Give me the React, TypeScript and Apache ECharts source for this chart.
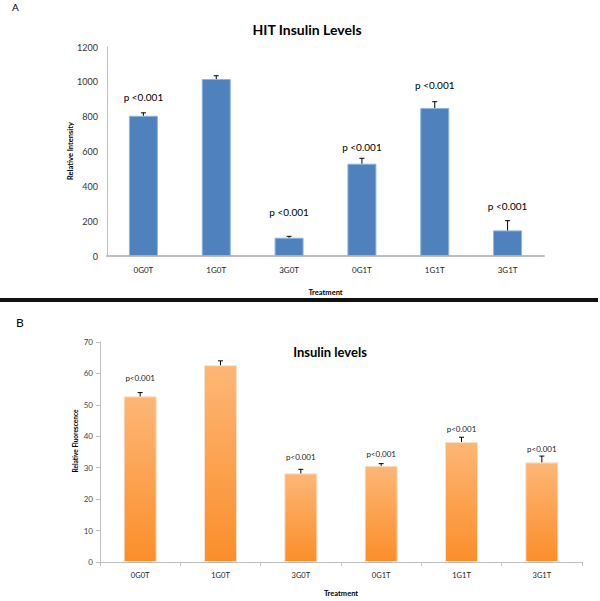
import React, { useEffect, useRef } from "react";
import * as echarts from "echarts";

const categories = ["0G0T", "1G0T", "3G0T", "0G1T", "1G1T", "3G1T"];

// Panel A: HIT insulin levels (relative intensity)
const hitValues = [805, 1016, 105, 530, 850, 147];
const hitErrors = [17, 19, 8, 31, 36, 56];
const hitPLabels = ["p <0.001", "", "p <0.001", "p <0.001", "p <0.001", "p <0.001"];
const hitPLabelY = [914, 0, 254, 627, 982, 287];

// Panel B: insulin levels (relative fluorescence)
const fluoValues = [52.7, 62.6, 28.2, 30.6, 38.2, 31.7];
const fluoErrors = [1.2, 1.4, 1.3, 0.7, 1.5, 2.0];
const fluoPLabels = ["p<0.001", "", "p<0.001", "p<0.001", "p<0.001", "p<0.001"];
const fluoPLabelY = [58.7, 0, 33.3, 34.4, 42.2, 36.0];

const yTicksA = { min: 0, max: 1200, interval: 200 };
const yTicksB = { min: 0, max: 70, interval: 10 };

const FONT = "Lato, 'Open Sans', 'DejaVu Sans', sans-serif";

function errorSeries(values: number[], errors: number[], axisIndex: number, cap: number) {
  return {
    type: "custom",
    xAxisIndex: axisIndex,
    yAxisIndex: axisIndex,
    z: 5,
    data: values.map((v, i) => [i, v, v + errors[i]]),
    encode: { x: 0, y: [1, 2] },
    renderItem: (params: any, api: any) => {
      const base = api.coord([api.value(0), api.value(1)]);
      const top = api.coord([api.value(0), api.value(2)]);
      const style = { stroke: "#000", lineWidth: 1 };
      return {
        type: "group",
        children: [
          { type: "line", shape: { x1: base[0], y1: base[1], x2: top[0], y2: top[1] }, style },
          { type: "line", shape: { x1: top[0] - cap, y1: top[1], x2: top[0] + cap, y2: top[1] }, style },
        ],
      };
    },
  };
}

function labelSeries(labels: string[], ys: number[], axisIndex: number, size: number, color: string) {
  const items = labels.map((t, i) => ({ t, i, y: ys[i] })).filter((d) => d.t);
  return {
    type: "custom",
    xAxisIndex: axisIndex,
    yAxisIndex: axisIndex,
    z: 6,
    data: items.map((d) => [d.i, d.y]),
    renderItem: (params: any, api: any) => {
      const p = api.coord([api.value(0), api.value(1)]);
      return {
        type: "text",
        x: p[0],
        y: p[1],
        style: {
          text: items[params.dataIndex].t,
          align: "center",
          verticalAlign: "middle",
          fontSize: size,
          fontFamily: FONT,
          fill: color,
        },
      };
    },
  };
}

export default function App() {
  const ref = useRef<HTMLDivElement>(null);
  useEffect(() => {
    if (!ref.current) return;
    const chart = echarts.init(ref.current, null, { renderer: "svg" });
    chart.setOption({
      animation: false,
      backgroundColor: "#fff",
      textStyle: { fontFamily: FONT },
      title: [
        {
          text: "HIT Insulin Levels",
          left: 302,
          top: 17,
          textAlign: "center",
          textStyle: { fontSize: 14, fontWeight: "bold", color: "#000", fontFamily: FONT },
        },
        {
          text: "Insulin levels",
          left: 325,
          top: 340,
          textAlign: "center",
          textStyle: { fontSize: 13, fontWeight: "bold", color: "#000", fontFamily: FONT },
        },
      ],
      graphic: [
        { type: "text", left: 12, top: 2, style: { text: "A", fontSize: 10, fontFamily: FONT, fill: "#000" } },
        { type: "text", left: 16, top: 316, style: { text: "B", fontSize: 12, fontFamily: FONT, fill: "#000" } },
        { type: "rect", shape: { x: 0, y: 298, width: 598, height: 4 }, style: { fill: "#111" } },
        {
          type: "text",
          x: 70,
          y: 151,
          rotation: Math.PI / 2,
          style: {
            text: "Relative Intensity",
            align: "center",
            verticalAlign: "middle",
            fontSize: 7.5,
            fontWeight: "bold",
            fontFamily: FONT,
            fill: "#000",
          },
        },
        {
          type: "text",
          x: 75,
          y: 441,
          rotation: Math.PI / 2,
          style: {
            text: "Relative Fluorescence",
            align: "center",
            verticalAlign: "middle",
            fontSize: 6.5,
            fontWeight: "bold",
            fontFamily: FONT,
            fill: "#000",
          },
        },
      ],
      grid: [
        { left: 107, top: 47, width: 437, height: 209 },
        { left: 100, top: 342, width: 482, height: 220 },
      ],
      xAxis: [
        {
          type: "category",
          gridIndex: 0,
          data: categories,
          axisLine: { lineStyle: { color: "#BFBFBF", width: 2 } },
          axisTick: { show: false },
          axisLabel: { fontSize: 8, color: "#222", margin: 10, fontFamily: FONT },
          name: "Treatment",
          nameLocation: "middle",
          nameGap: 32,
          nameTextStyle: { fontSize: 7.5, fontWeight: "bold", color: "#000", fontFamily: FONT },
        },
        {
          type: "category",
          gridIndex: 1,
          data: categories,
          axisLine: { lineStyle: { color: "#BFBFBF", width: 1 } },
          axisTick: { show: true, length: 4, lineStyle: { color: "#BFBFBF" } },
          axisLabel: { fontSize: 7.5, color: "#222", margin: 9, fontFamily: FONT },
          name: "Treatment",
          nameLocation: "middle",
          nameGap: 27,
          nameTextStyle: { fontSize: 7.5, fontWeight: "bold", color: "#000", fontFamily: FONT },
        },
      ],
      yAxis: [
        {
          type: "value",
          gridIndex: 0,
          ...yTicksA,
          axisLine: { show: true, lineStyle: { color: "#BFBFBF", width: 1 } },
          axisTick: { show: false },
          splitLine: { show: false },
          axisLabel: {
            fontSize: 9,
            color: "#333",
            margin: 9,
            fontFamily: FONT,
            formatter: (v: number) => String(v),
          },
        },
        {
          type: "value",
          gridIndex: 1,
          ...yTicksB,
          axisLine: { show: true, lineStyle: { color: "#BFBFBF", width: 1 } },
          axisTick: { show: true, length: 4, lineStyle: { color: "#BFBFBF" } },
          splitLine: { show: false },
          axisLabel: { fontSize: 8, color: "#444", margin: 7, fontFamily: FONT },
        },
      ],
      series: [
        {
          type: "bar",
          xAxisIndex: 0,
          yAxisIndex: 0,
          data: hitValues,
          barWidth: 29,
          itemStyle: { color: "#4F81BD", borderColor: "#8EB4E3", borderWidth: 1 },
        },
        errorSeries(hitValues, hitErrors, 0, 2.5),
        labelSeries(hitPLabels, hitPLabelY, 0, 10, "#000"),
        {
          type: "bar",
          xAxisIndex: 1,
          yAxisIndex: 1,
          data: fluoValues,
          barWidth: 33,
          itemStyle: {
            color: new echarts.graphic.LinearGradient(0, 0, 0, 1, [
              { offset: 0, color: "#FDB676" },
              { offset: 1, color: "#FB8E2A" },
            ]),
            borderColor: "#FDE0C4",
            borderWidth: 1,
          },
        },
        errorSeries(fluoValues, fluoErrors, 1, 2.5),
        labelSeries(fluoPLabels, fluoPLabelY, 1, 8, "#222"),
      ],
    });
    return () => chart.dispose();
  }, []);
  return <div ref={ref} style={{ position: "fixed", left: 0, top: 0, width: 600, height: 601 }} />;
}
